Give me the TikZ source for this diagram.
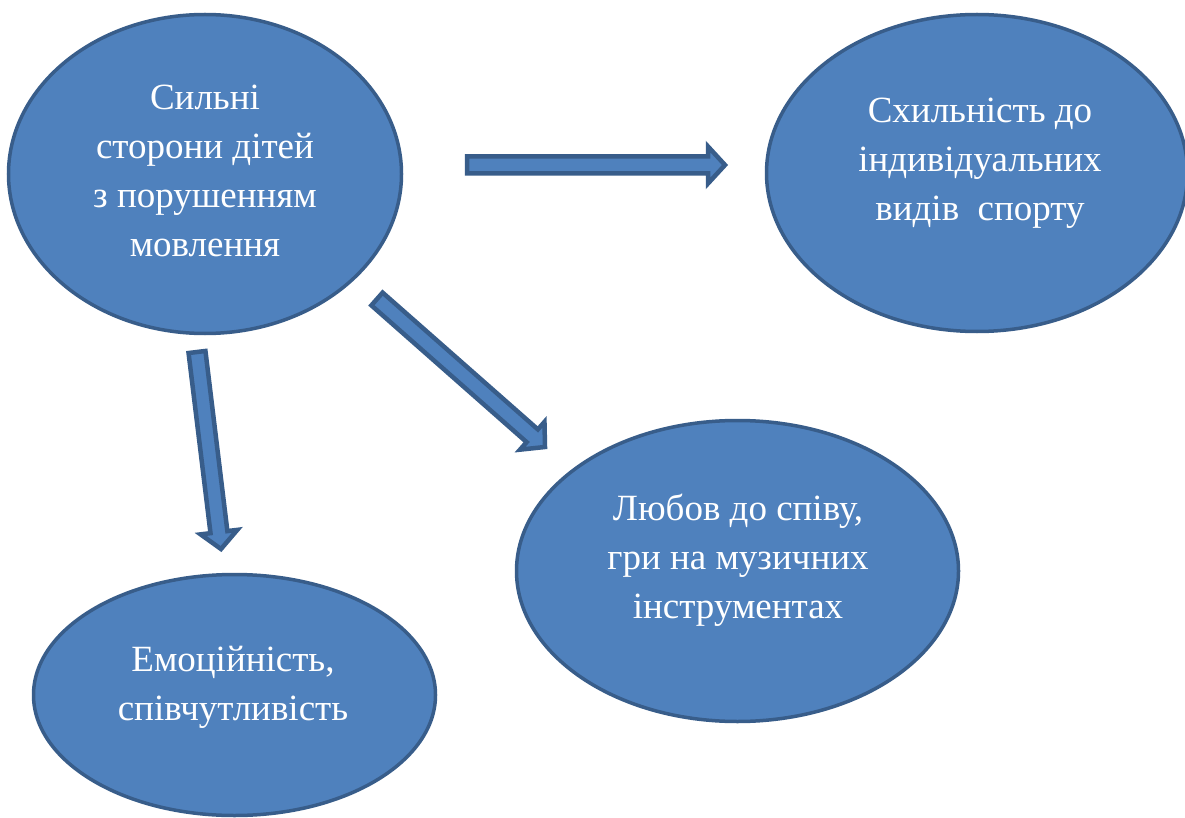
\documentclass[tikz,border=0pt]{standalone}
\usepackage{fontspec}
\setmainfont{Liberation Serif}
\usetikzlibrary{calc,shapes.geometric}
\definecolor{fillblue}{HTML}{4F81BD}
\definecolor{edgeblue}{HTML}{385D8A}
\tikzset{
  ell/.style={ellipse, draw=edgeblue, fill=fillblue, line width=3.5pt, inner sep=0pt},
  txt/.style={text=white, align=center, font=\fontsize{37}{49}\selectfont, inner sep=0pt},
  blockarrow/.style={draw=edgeblue, fill=fillblue, line width=4.5pt, line join=miter},
}
\newcommand\blockarr[3]{%
  \coordinate (#3h) at ($(#2)!17pt!(#1)$);
  \draw[blockarrow] ($(#1)!8.5pt!90:(#2)$) -- ($(#3h)!8.5pt!-90:(#1)$) -- ($(#3h)!18.5pt!-90:(#1)$) -- (#2) -- ($(#3h)!18.5pt!90:(#1)$) -- ($(#3h)!8.5pt!90:(#1)$) -- ($(#1)!8.5pt!-90:(#2)$) -- cycle;
}
\begin{document}
\begin{tikzpicture}[x=1pt,y=-1pt]
\useasboundingbox[fill=white] (0,0) rectangle (1185,818);
\node[ell, minimum width=393pt, minimum height=319pt] (e1) at (205,174) {};
\node[ell, minimum width=421pt, minimum height=317pt] (e2) at (977,173) {};
\node[ell, minimum width=442pt, minimum height=301pt] (e3) at (737.5,571) {};
\node[ell, minimum width=402pt, minimum height=241pt] (e4) at (234.5,695) {};
\node[txt] (t1) at (205,171) {Сильні\\сторони дітей\\з порушенням\\мовлення};
\node[txt] (t2) at (980,163) {Схильність до\\індивідуальних\\видів~ спорту};
\node[txt] (t3) at (738,560) {Любов до співу,\\гри на музичних\\інструментах};
\node[txt] (t4) at (233,687) {Емоційність,\\співчутливість};
\coordinate (a1s) at (467,165);
\coordinate (a1e) at (725,165);
\coordinate (a2s) at (377,299);
\coordinate (a2e) at (545,447);
\coordinate (a3s) at (197,352);
\coordinate (a3e) at (221,549);
\blockarr{a1s}{a1e}{a1}
\blockarr{a2s}{a2e}{a2}
\blockarr{a3s}{a3e}{a3}
\end{tikzpicture}
\end{document}
